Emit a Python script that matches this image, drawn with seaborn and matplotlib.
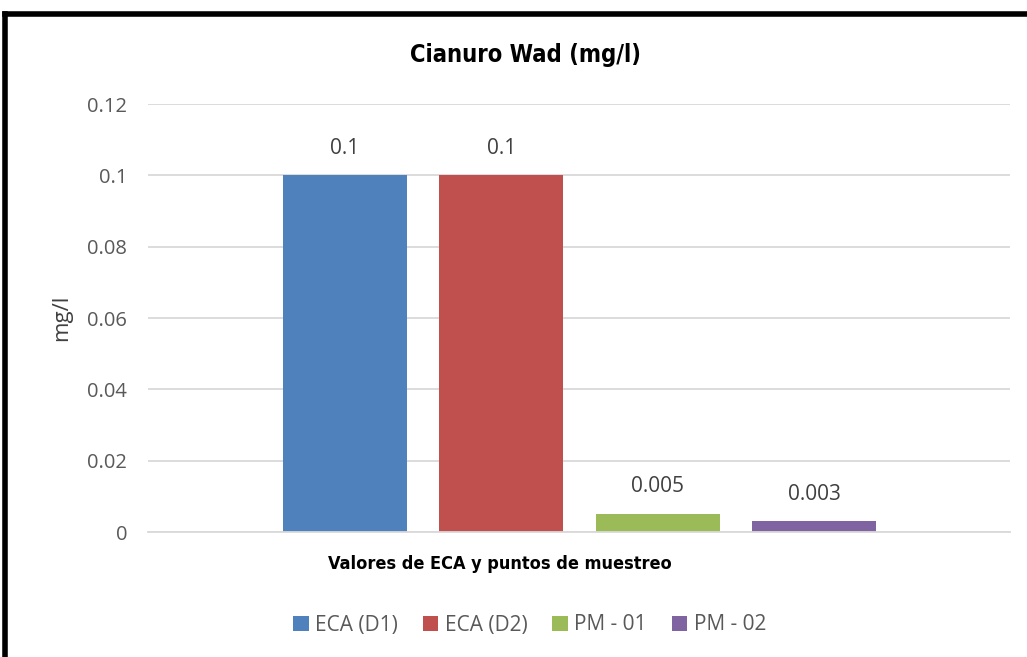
import matplotlib
matplotlib.use("Agg")
import matplotlib.pyplot as plt
import seaborn as sns
import pandas as pd
from matplotlib.lines import Line2D
from matplotlib.patches import Patch

series = ["ECA (D1)", "ECA (D2)", "PM - 01", "PM - 02"]
values = [0.1, 0.1, 0.005, 0.003]
labels = ["0.1", "0.1", "0.005", "0.003"]
yticks = [0, 0.02, 0.04, 0.06, 0.08, 0.1, 0.12]
ytick_labels = ["0", "0.02", "0.04", "0.06", "0.08", "0.1", "0.12"]
colors = ["#4F81BD", "#C0504D", "#9BBB59", "#8064A2"]

sns.set_theme(style="white")
plt.rcParams["font.family"] = ["Open Sans", "DejaVu Sans"]

df = pd.DataFrame({"serie": series, "valor": values})

fig = plt.figure(figsize=(10.27, 6.57), dpi=100)
ax = fig.add_axes([148/1027, 1-532/657, (1010-148)/1027, (532-104)/657])

sns.barplot(data=df, x="serie", y="valor", hue="serie", palette=colors,
            width=0.793, ax=ax, legend=False, saturation=1, linewidth=0)

ax.set_xlim(-1.26, 4.254)
ax.set_ylim(0, 0.12)
ax.set_yticks(yticks)
ax.set_yticklabels(ytick_labels, color="#595959", fontsize=14.5)
ax.set_xticks([])
ax.yaxis.grid(True, color="#D9D9D9", linewidth=1.3)
ax.set_axisbelow(True)
for s in ["top", "right", "left"]:
    ax.spines[s].set_visible(False)
ax.spines["bottom"].set_color("#D9D9D9")
ax.spines["bottom"].set_linewidth(1.3)
ax.tick_params(axis="y", length=0, pad=15)

for cont, lab in zip(ax.containers, labels):
    ax.bar_label(cont, labels=[lab], padding=12, fontsize=15, color="#404040")

ax.set_xlabel("")
ax.set_ylabel("mg/l", fontsize=16, color="#404040")
ax.yaxis.set_label_coords(-0.088, 0.5)

fig.text(0.5115, 1-55/657, "Cianuro Wad (mg/l)", ha="center", va="center",
         fontsize=17, fontweight="bold", fontstretch="condensed",
         family=["DejaVu Sans"], color="#000000")
fig.text(0.4865, 1-564/657, "Valores de ECA y puntos de muestreo", ha="center", va="center",
         fontsize=13, fontweight="bold", fontstretch="condensed",
         family=["DejaVu Sans"], color="#000000")

handles = [Patch(facecolor=c, edgecolor="none") for c in colors]
fig.legend(handles, series, loc="center", bbox_to_anchor=(0.5155, 1-625/657),
           ncol=4, frameon=False, fontsize=15, handlelength=0.75, handleheight=0.75,
           columnspacing=1.2, handletextpad=0.3, labelcolor="#595959")

# figure border (left and top)
fig.add_artist(Line2D([5/1027, 5/1027], [0, 1-13.5/657], color="black", linewidth=4,
                      transform=fig.transFigure, solid_capstyle="projecting"))
fig.add_artist(Line2D([5/1027, 1], [1-13.5/657, 1-13.5/657], color="black", linewidth=4,
                      transform=fig.transFigure, solid_capstyle="projecting"))

fig.savefig("out.png", dpi=100)
